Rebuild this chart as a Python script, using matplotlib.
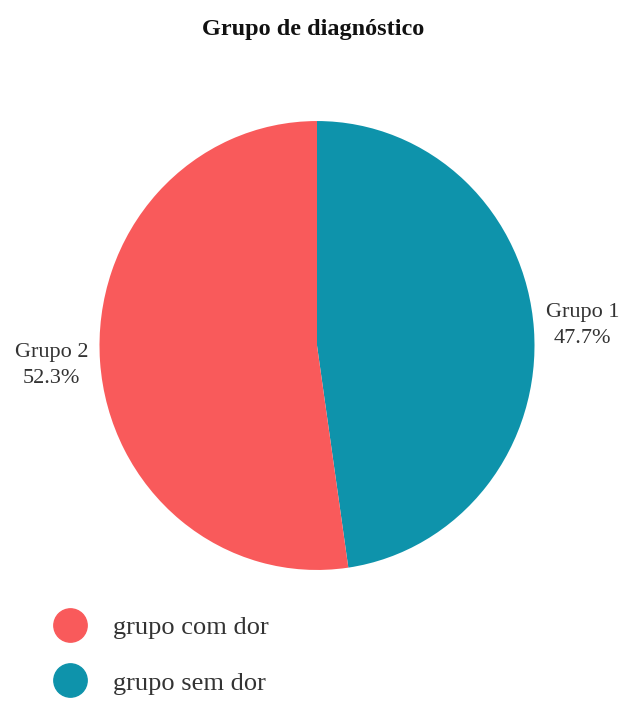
import matplotlib.pyplot as plt
from matplotlib.lines import Line2D

plt.rcParams['font.family'] = ['Liberation Serif', 'DejaVu Serif']

grupos = ['Grupo 1', 'Grupo 2']
valores = [47.7, 52.3]
cores = ['#0E93AB', '#F95A5B']
legenda = ['grupo com dor', 'grupo sem dor']
cores_legenda = ['#F95A5B', '#0E93AB']

# the source image is slightly taller than wide, so y units are stretched
esticar = 1.032

fig = plt.figure(figsize=(6.27, 7.02), dpi=100)
ax = fig.add_axes([0, 0, 1, 1])

rotulos = [f'{g}\n{v:.1f}%' for g, v in zip(grupos, valores)]
wedges, texts = ax.pie(valores, colors=cores, startangle=90, counterclock=False,
                       center=(317, 356.5 / esticar), radius=217.5, labels=rotulos,
                       labeldistance=1.225, frame=True,
                       textprops=dict(fontsize=16, color='#333333', linespacing=1.45))
for t in texts:
    t.set_ha('center')
    t.set_va('center')
ax.set_aspect('auto')
ax.set_xlim(0, 627)
ax.set_ylim(0, 702 / esticar)
ax.axis('off')

fig.text(0.5, 1 - 30 / 702, 'Grupo de diagnóstico', ha='center', va='center',
         fontsize=17.5, fontweight='bold', color='#111111')

handles = [Line2D([], [], marker='o', linestyle='', markersize=24,
                  markerfacecolor=c, markeredgecolor=c) for c in cores_legenda]
fig.legend(handles, legenda, loc='upper left', bbox_to_anchor=(44 / 627, 1 - 616 / 702),
           frameon=False, fontsize=19, labelspacing=1.2, handletextpad=0.62,
           handlelength=2.0, borderpad=0, borderaxespad=0, labelcolor='#333333')

fig.savefig('out.png', dpi=100)
